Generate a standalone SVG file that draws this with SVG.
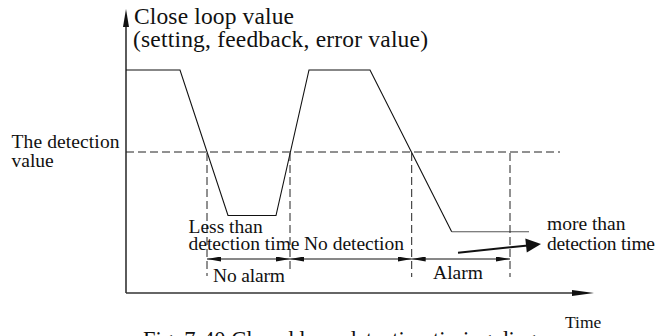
<svg xmlns="http://www.w3.org/2000/svg" width="661" height="336" viewBox="0 0 661 336">
<style>
text{font-family:"Liberation Serif","Times New Roman",serif;fill:#111}
.lbl{font-size:19.5px}
.axis{stroke:#333;stroke-width:1.6;fill:none}
.sig{stroke:#111;stroke-width:1.1;fill:none}
.dash{stroke:#222;stroke-width:1;stroke-dasharray:8 4;fill:none}
.dim{stroke:#111;stroke-width:1;fill:none;marker-start:url(#dimA);marker-end:url(#dimA)}
</style>
<defs>
<marker id="dimA" viewBox="0 0 14 5" refX="14" refY="2.5" markerWidth="14" markerHeight="5" markerUnits="userSpaceOnUse" orient="auto-start-reverse">
<path d="M0,0 L14,2.5 L0,5 z" fill="#111"/>
</marker>
</defs>
<rect width="661" height="336" fill="#fff"/>
<g id="axes">
<line class="axis" x1="126" y1="293" x2="126" y2="24"/>
<polygon points="126,9 129,27 123,27" fill="#111"/>
<line class="axis" x1="126" y1="293" x2="576" y2="293"/>
<polygon points="594,293 572,290 572,296" fill="#111"/>
</g>
<g id="signal">
<polyline class="sig" points="126,70 180,70 228,215.5 276,215.5 309,70 370,70 451.7,231.7"/>
<line x1="451.7" y1="231.7" x2="529" y2="231.7" stroke="#555" stroke-width="1.1"/>
</g>
<g id="detection-level">
<line class="dash" x1="126" y1="152" x2="560" y2="152"/>
<line class="dash" x1="207" y1="153" x2="207" y2="276"/>
<line class="dash" x1="290" y1="153" x2="290" y2="273"/>
<line class="dash" x1="411.7" y1="153" x2="411.7" y2="277"/>
<line class="dash" x1="510" y1="153" x2="510" y2="277" stroke="#555"/>
</g>
<g id="connectors">
<line class="dim" x1="207" y1="259" x2="290" y2="259"/>
<line class="dim" x1="290" y1="259" x2="411.7" y2="259"/>
<line class="dim" x1="411.7" y1="259" x2="510" y2="259"/>
<line x1="458" y1="252.7" x2="528" y2="245.4" stroke="#111" stroke-width="2"/>
<polygon points="541,244 526.8,252.6 525.3,238.6" fill="#111"/>
</g>
<g id="title">
<text x="134" y="24" font-size="23.5" textLength="160">Close loop value</text>
<text x="133" y="47" font-size="23.5" textLength="295">(setting, feedback, error value)</text>
</g>
<g id="label-detection-value">
<text class="lbl" x="11.5" y="148" textLength="108">The detection</text>
<text class="lbl" x="11.5" y="167">value</text>
</g>
<g id="label-less-than">
<text class="lbl" x="188.5" y="233">Less than</text>
<text class="lbl" x="188.5" y="250" textLength="111">detection time</text>
</g>
<g id="label-no-detection">
<text class="lbl" x="304" y="250" textLength="100">No detection</text>
</g>
<g id="label-no-alarm">
<text class="lbl" x="213" y="281.5" textLength="72">No alarm</text>
</g>
<g id="label-alarm">
<text class="lbl" x="433" y="278.5" textLength="50">Alarm</text>
</g>
<g id="label-more-than">
<text class="lbl" x="547" y="230">more than</text>
<text class="lbl" x="547" y="250" textLength="108">detection time</text>
</g>
<g id="label-time">
<text x="565" y="328" font-size="17.5">Time</text>
</g>
<g id="caption">
<text x="143" y="347" font-size="22.5">Fig. 7-40 Closed loop detection timing diagram</text>
</g>
</svg>
